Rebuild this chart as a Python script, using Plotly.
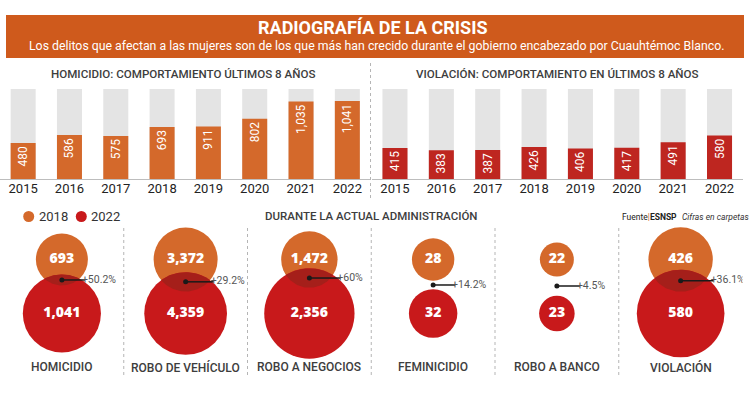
import math
import plotly.graph_objects as go

# ---------------- data ----------------
years = ["2015", "2016", "2017", "2018", "2019", "2020", "2021", "2022"]
homicidio = [480, 586, 575, 693, 911, 802, 1035, 1041]           # printed labels
# bar heights as drawn in the original graphic (2019 is drawn ~700 high)
homicidio_drawn = [480, 586, 575, 693, 700, 802, 1035, 1041]
violacion = [415, 383, 387, 426, 406, 417, 491, 580]
bar_scale_max = 1200

crimes = ["HOMICIDIO", "ROBO DE VEHÍCULO", "ROBO A NEGOCIOS",
          "FEMINICIDIO", "ROBO A BANCO", "VIOLACIÓN"]
v2018 = [693, 3372, 1472, 28, 22, 426]
v2022 = [1041, 4359, 2356, 32, 23, 580]
pct_change = ["+50.2%", "+29.2%", "+60%", "+14.2%", "+4.5%", "+36.1%"]
legend_labels = ["2018", "2022"]

title = "RADIOGRAFÍA DE LA CRISIS"
subtitle = ("Los delitos que afectan a las mujeres son de los que más han crecido "
            "durante el gobierno encabezado por Cuauhtémoc Blanco.")
title_left = "HOMICIDIO: COMPORTAMIENTO ÚLTIMOS 8 AÑOS"
title_right = "VIOLACIÓN: COMPORTAMIENTO EN ÚLTIMOS 8 AÑOS"
title_bottom = "DURANTE LA ACTUAL ADMINISTRACIÓN"

# ---------------- styles ----------------
W, H = 750, 393
FONT = "Roboto"
BANNER = "#CF5A1C"
ORANGE = "#D4692B"
RED_BAR = "#BE2620"
RED = "#C8191B"
OVERLAP = "#A51F1A"
GRAY_BG = "#E4E4E4"
TXT = "#3d3d3d"

R2018 = [26, 32, 28.2, 21.2, 17, 32.2]      # radius (px) of the 2018 bubble
CONN_LEN = [23, 28, 31, 22, 23, 33]         # connector length (px)
ROW_PX = [259.5, 313.5]                     # bubble row centres (px)
COL_W = 742.5 / 6                           # px per column
ROW_GAP = ROW_PX[1] - ROW_PX[0]


def px_x(x):
    return x / W


def px_y(y):
    return 1 - y / H


fig = go.Figure()

# ---------------- bar charts ----------------
for heights, labels, color, xa, ya in [(homicidio_drawn, homicidio, ORANGE, "x", "y"),
                                       (violacion, violacion, RED_BAR, "x2", "y2")]:
    fig.add_trace(go.Bar(x=years, y=[bar_scale_max] * len(years), marker_color=GRAY_BG,
                         marker_line_width=0, xaxis=xa, yaxis=ya, showlegend=False,
                         hoverinfo="skip"))
    fig.add_trace(go.Bar(x=years, y=heights, marker_color=color, marker_line_width=0,
                         text=[f"{v:,}" for v in labels], textposition="inside",
                         insidetextanchor="end", textangle=-90,
                         textfont=dict(family=FONT, size=12, color="white"),
                         xaxis=xa, yaxis=ya, showlegend=False))

bar_ydom = [px_y(179), px_y(89)]
axis_common = dict(showgrid=False, zeroline=False, showline=True, linecolor="#bdbdbd",
                   linewidth=1, ticks="", tickfont=dict(family=FONT, size=13, color="#222"),
                   ticklabelstandoff=-3, fixedrange=True)
fig.update_layout(
    xaxis=dict(domain=[px_x(0), px_x(370.5)], type="category", **axis_common),
    yaxis=dict(domain=bar_ydom, range=[0, bar_scale_max], visible=False, fixedrange=True),
    xaxis2=dict(domain=[px_x(371.8), px_x(742.7)], type="category", **axis_common),
    yaxis2=dict(domain=bar_ydom, range=[0, bar_scale_max], visible=False, fixedrange=True),
    barmode="overlay", bargap=0.46,
)

# ---------------- bubbles ----------------
dom_top, dom_bot = 225, 385
y_top_val = (dom_top - ROW_PX[0]) / ROW_GAP
y_bot_val = (dom_bot - ROW_PX[0]) / ROW_GAP
fig.update_layout(
    xaxis3=dict(domain=[0, px_x(742.5)], range=[-0.5, 5.5], visible=False, fixedrange=True),
    yaxis3=dict(domain=[px_y(dom_bot), px_y(dom_top)], range=[y_bot_val, y_top_val],
                visible=False, fixedrange=True),
)

idx = list(range(len(crimes)))
r2022 = [r * b / a for r, a, b in zip(R2018, v2018, v2022)]

fig.add_trace(go.Scatter(x=idx, y=[0] * len(idx), mode="markers", name=legend_labels[0],
                         marker=dict(size=[2 * r for r in R2018], color=ORANGE,
                                     line_width=0, opacity=1),
                         showlegend=False, xaxis="x3", yaxis="y3"))
fig.add_trace(go.Scatter(x=idx, y=[1] * len(idx), mode="markers", name=legend_labels[1],
                         marker=dict(size=[2 * r for r in r2022], color=RED,
                                     line_width=0, opacity=1),
                         showlegend=False, xaxis="x3", yaxis="y3"))

# overlap lens (darker) where the two bubbles intersect
d = ROW_GAP
for i, r1, r2 in zip(idx, R2018, r2022):
    if r1 + r2 <= d:
        continue
    a = (d * d + r1 * r1 - r2 * r2) / (2 * d)
    t0 = math.acos(a / r1)
    p0 = math.acos((d - a) / r2)
    xs, ys = [], []
    n = 40
    for k in range(n + 1):
        t = t0 - 2 * t0 * k / n
        xs.append(r1 * math.sin(t))
        ys.append(r1 * math.cos(t))
    for k in range(n + 1):
        p = -p0 + 2 * p0 * k / n
        xs.append(r2 * math.sin(p))
        ys.append(d - r2 * math.cos(p))
    fig.add_trace(go.Scatter(x=[i + xx / COL_W for xx in xs], y=[yy / ROW_GAP for yy in ys],
                             mode="lines", fill="toself", fillcolor=OVERLAP,
                             line=dict(width=0), showlegend=False, hoverinfo="skip",
                             xaxis="x3", yaxis="y3"))

# values inside the bubbles
val_font = dict(family="Open Sans", size=14, color="white", weight=800)
fig.add_trace(go.Scatter(x=idx, y=[0] * len(idx), mode="text",
                         text=[f"{v:,}" for v in v2018], textfont=val_font,
                         showlegend=False, hoverinfo="skip", xaxis="x3", yaxis="y3"))
fig.add_trace(go.Scatter(x=idx, y=[1] * len(idx), mode="text",
                         text=[f"{v:,}" for v in v2022], textfont=val_font,
                         showlegend=False, hoverinfo="skip", xaxis="x3", yaxis="y3"))

# connectors with % change
cy = [(d + r1 - r2) / (2 * d) for r1, r2 in zip(R2018, r2022)]
lx, ly = [], []
for i, y, L in zip(idx, cy, CONN_LEN):
    lx += [i, i + L / COL_W, None]
    ly += [y, y, None]
fig.add_trace(go.Scatter(x=lx, y=ly, mode="lines", line=dict(color="#1a1a1a", width=1.5),
                         showlegend=False, hoverinfo="skip", xaxis="x3", yaxis="y3"))
fig.add_trace(go.Scatter(x=idx, y=cy, mode="markers", marker=dict(size=5, color="#1a1a1a"),
                         showlegend=False, hoverinfo="skip", xaxis="x3", yaxis="y3"))
fig.add_trace(go.Scatter(x=[i + L / COL_W - 3 / COL_W for i, L in zip(idx, CONN_LEN)], y=cy,
                         mode="text", text=pct_change, textposition="middle right",
                         textfont=dict(family=FONT, size=10.5, color="#555"),
                         showlegend=False, hoverinfo="skip", xaxis="x3", yaxis="y3"))

# ---------------- shapes ----------------
shapes = [
    dict(type="rect", xref="paper", yref="paper", x0=px_x(6), x1=px_x(744),
         y0=px_y(58), y1=px_y(15), fillcolor=BANNER, line_width=0, layer="below"),
    dict(type="line", xref="paper", yref="paper", x0=px_x(370.5), x1=px_x(370.5),
         y0=px_y(63), y1=px_y(200), line=dict(color="#b5b5b5", width=1, dash="dot")),
]
for k in range(len(crimes) - 1):
    shapes.append(dict(type="line", xref="x3", yref="paper", x0=k + 0.5, x1=k + 0.5,
                       y0=px_y(228), y1=px_y(376),
                       line=dict(color="#b5b5b5", width=1, dash="dot")))

# legend (dots + labels)
LEG_DOT_X = [28.7, 81.3]
LEG_Y = 216.5
LEG_R = 5.5
for cx, col in zip(LEG_DOT_X, [ORANGE, RED]):
    shapes.append(dict(type="circle", xref="paper", yref="paper",
                       x0=px_x(cx - LEG_R), x1=px_x(cx + LEG_R),
                       y0=px_y(LEG_Y + LEG_R), y1=px_y(LEG_Y - LEG_R),
                       fillcolor=col, line_width=0))

# ---------------- annotations ----------------
ann = [
    dict(text=f"<b>{title}</b>", x=px_x(373), y=px_y(28), font=dict(family=FONT, size=18, color="white")),
    dict(text=subtitle, x=px_x(376), y=px_y(46), font=dict(family=FONT, size=12.3, color="white")),
    dict(text=title_left, x=px_x(183), y=px_y(74), font=dict(family=FONT, size=11.6, color=TXT, weight=500)),
    dict(text=title_right, x=px_x(557), y=px_y(74), font=dict(family=FONT, size=11.6, color=TXT, weight=500)),
    dict(text=title_bottom, x=px_x(371), y=px_y(216), font=dict(family=FONT, size=11.5, color=TXT, weight=500)),
    dict(text="Fuente<span style='color:#D4692B'>|</span><b>ESNSP</b>", x=px_x(620), y=px_y(217),
         xanchor="left", font=dict(family=FONT, size=8.5, color="#222")),
    dict(text="<i>Cifras en carpetas</i>", x=px_x(680), y=px_y(217), xanchor="left",
         font=dict(family=FONT, size=8.5, color="#333")),
]
for cx, lab in zip(LEG_DOT_X, legend_labels):
    ann.append(dict(text=lab, x=px_x(cx + 8), y=px_y(LEG_Y), xanchor="left",
                    font=dict(family=FONT, size=13, color="#333")))
for a in ann:
    a.setdefault("xanchor", "center")
    a.update(xref="paper", yref="paper", yanchor="middle", showarrow=False)
for i, c in zip(idx, crimes):
    ann.append(dict(text=c, x=i, xref="x3", y=px_y(367), yref="paper", showarrow=False,
                    xanchor="center", yanchor="middle",
                    font=dict(family=FONT, size=12, color=TXT, weight=500)))

fig.update_layout(
    width=W, height=H, margin=dict(l=0, r=0, t=0, b=0),
    paper_bgcolor="white", plot_bgcolor="white",
    shapes=shapes, annotations=ann, showlegend=False,
    font=dict(family=FONT), hovermode=False,
)

fig.write_html("out.html", config={"displayModeBar": False},
               post_script="document.body.style.margin='0';")
